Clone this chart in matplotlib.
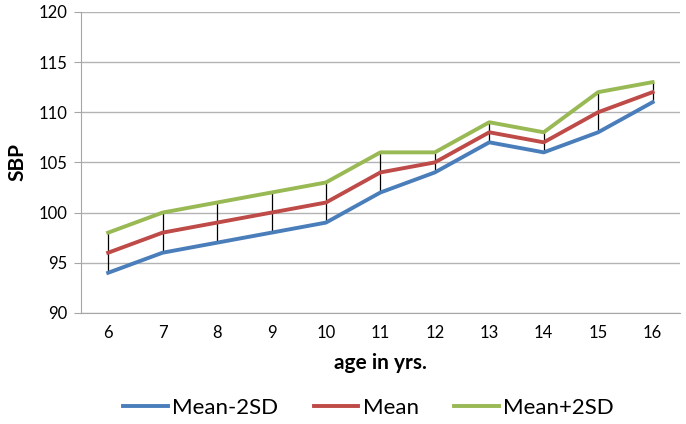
import numpy as np
import matplotlib.pyplot as plt

plt.rcParams['font.family'] = ['Lato', 'DejaVu Sans']

ages = [6, 7, 8, 9, 10, 11, 12, 13, 14, 15, 16]
mean_minus = [94, 96, 97, 98, 99, 102, 104, 107, 106, 108, 111]
mean = [96, 98, 99, 100, 101, 104, 105, 108, 107, 110, 112]
mean_plus = [98, 100, 101, 102, 103, 106, 106, 109, 108, 112, 113]

fig = plt.figure(figsize=(6.86, 4.24), dpi=100)
ax = fig.add_axes([0.118, 0.262, 0.873, 0.710])

# high-low lines
ax.vlines(ages, mean_minus, mean_plus, color='black', lw=0.9, zorder=2)

ax.plot(ages, mean_minus, color='#4A7EBB', lw=2.8, label='Mean-2SD', zorder=3)
ax.plot(ages, mean, color='#BE4B48', lw=2.8, label='Mean', zorder=3)
ax.plot(ages, mean_plus, color='#98B954', lw=2.8, label='Mean+2SD', zorder=3)

ax.set_xlim(5.5, 16.5)
ax.set_ylim(90, 120)
ax.set_xticks(ages)
ax.set_yticks(np.arange(90, 121, 5))
ax.grid(axis='y', color='#B3B3B3', lw=1)
ax.set_axisbelow(True)
for s in ['top', 'right']:
    ax.spines[s].set_visible(False)
for s in ['left', 'bottom']:
    ax.spines[s].set_color('#A6A6A6')
ax.tick_params(axis='x', length=0, pad=9, labelsize=12)
ax.tick_params(axis='y', length=5, color='#A6A6A6', pad=5, labelsize=12)

ax.set_xlabel('age in yrs.', fontsize=15, fontweight='bold', labelpad=8)
ax.set_ylabel('SBP', fontsize=15, fontweight='bold', labelpad=8)

ax.legend(loc='center', bbox_to_anchor=(0.48, -0.315), ncol=3, frameon=False,
          fontsize=16, handlelength=2.0, columnspacing=1.6, handletextpad=0.2)

fig.savefig('out.png', dpi=100)
